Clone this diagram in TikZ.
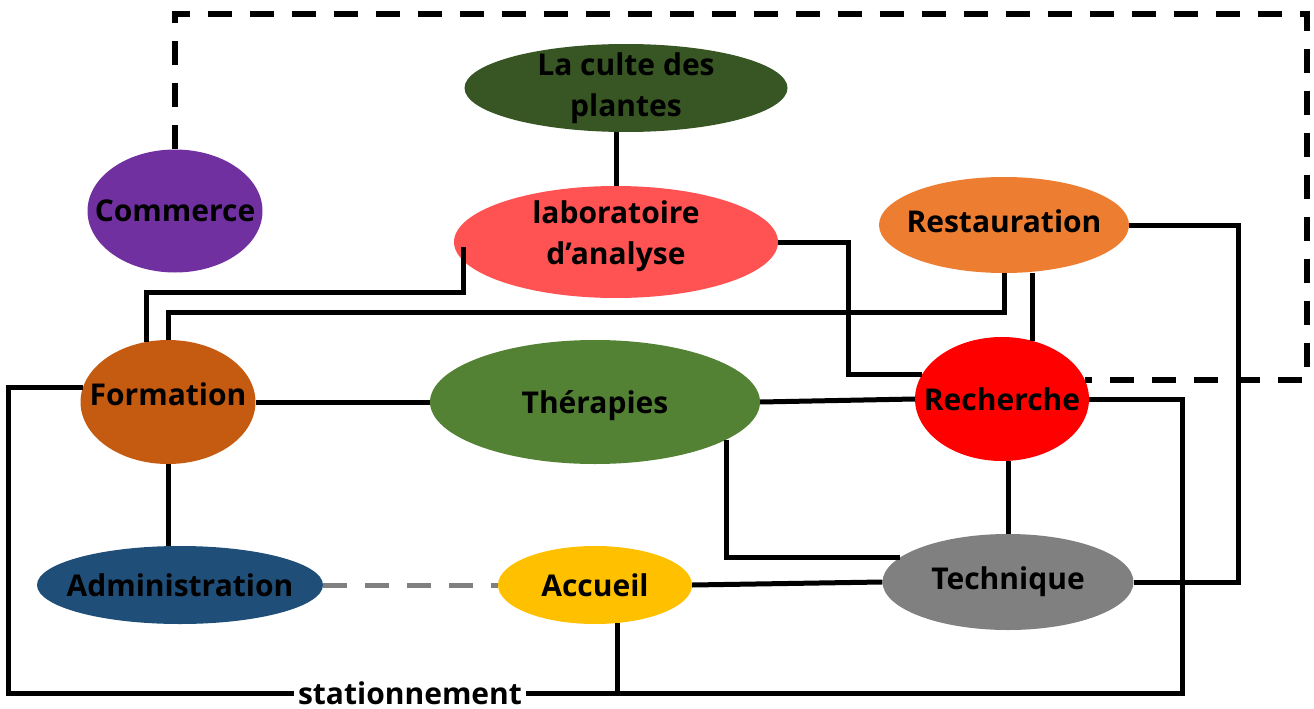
\documentclass[tikz,border=0pt]{standalone}
\usepackage{fontspec}
\setmainfont{Open Sans}
\usetikzlibrary{shapes.geometric, calc}

\definecolor{culteC}{HTML}{375623}
\definecolor{commC}{HTML}{7030A0}
\definecolor{labC}{HTML}{FF5353}
\definecolor{restC}{HTML}{ED7D31}
\definecolor{rechC}{HTML}{FF0000}
\definecolor{formC}{HTML}{C55A11}
\definecolor{therC}{HTML}{548235}
\definecolor{admC}{HTML}{1F4E79}
\definecolor{accC}{HTML}{FFC000}
\definecolor{techC}{HTML}{808080}

\begin{document}
\begin{tikzpicture}[x=1pt, y=-1pt,
    pole/.style={ellipse, inner sep=0pt},
    txt/.style={align=center, inner sep=0pt,
      font=\fontsize{30}{41}\selectfont\bfseries},
    lien/.style={line width=5pt},
    zone/.style={line width=5.5pt, dash pattern=on 24pt off 18pt},
    lienG/.style={line width=5pt, techC, dash pattern=on 24pt off 18pt}]

    \useasboundingbox (0,0) rectangle (1314,709);

    % 1. Les poles (ellipses)
    \node[pole, fill=culteC, minimum width=323, minimum height=88,
      label={[txt]center:La culte des\\plantes}] (culte) at (626,88) {};
    \node[pole, fill=commC, minimum width=175, minimum height=123,
      label={[txt]center:Commerce}] (comm) at (175,211) {};
    \node[pole, fill=labC, minimum width=324, minimum height=112,
      label={[txt, yshift=6]center:laboratoire\\d’analyse}] (lab) at (616,242) {};
    \node[pole, fill=restC, minimum width=250, minimum height=96,
      label={[txt, yshift=4]center:Restauration}] (rest) at (1004,225) {};
    \node[pole, fill=rechC, minimum width=174, minimum height=124,
      label={[txt]center:Recherche}] (rech) at (1002,399) {};
    \node[pole, fill=formC, minimum width=175, minimum height=124,
      label={[txt, yshift=8]center:Formation}] (form) at (168,402) {};
    \node[pole, fill=therC, minimum width=330, minimum height=124,
      label={[txt, yshift=-4]center:Thérapies}] (ther) at (595,402) {};
    \node[pole, fill=admC, minimum width=286, minimum height=78,
      label={[txt]center:Administration}] (adm) at (180,585) {};
    \node[pole, fill=accC, minimum width=194, minimum height=78,
      label={[txt]center:Accueil}] (acc) at (595,585) {};
    \node[pole, fill=techC, minimum width=251, minimum height=96,
      label={[txt]center:Technique}] (tech) at (1008,582) {};
    \node[txt, inner xsep=4pt, inner ysep=1pt] (stat) at (410,693) {stationnement};

    % 2. Zone en pointilles
    \coordinate (coin) at (1307,14);
    \draw[zone] (comm.north) |- (coin) |- (rech.13);

    % 3. Liaisons
    \draw[lien] (lab.north) -- (lab.north |- culte.south);
    \draw[lien] (lab.west) ++(10,5) -- ++(0,45) -| (form.110);
    \draw[lien] (rest.south) -- ++(0,39) -| (form.north);
    \draw[lien] (rech.62) -- (rech.62 |- rest.south);
    \draw[lien] (lab.east) -- ++(70,0) |- (rech.163);
    \draw[lien] (rest.east) -- ++(109,0) |- (tech.east);
    \draw[lien] (form.east) -- (ther.west);
    \draw[lien] (ther.east) -- (rech.west);
    \draw[lien] (rech.east) -- ++(93,0) |- (stat.east);
    \draw[lien] (acc.-59) -- (acc.-59 |- stat.east);
    \draw[lien] (form.170) -- ++(-74,0) |- (stat.west);
    \draw[lien] (form.south) -- (form.south |- adm.north);
    \draw[lienG] (adm.east) -- (acc.west);
    \draw[lien] (acc.east) -- (tech.west);
    \draw[lien] (ther.-16) |- (tech.167);
    \draw[lien] (tech.north) -- (tech.north |- rech.south);

\end{tikzpicture}
\end{document}
